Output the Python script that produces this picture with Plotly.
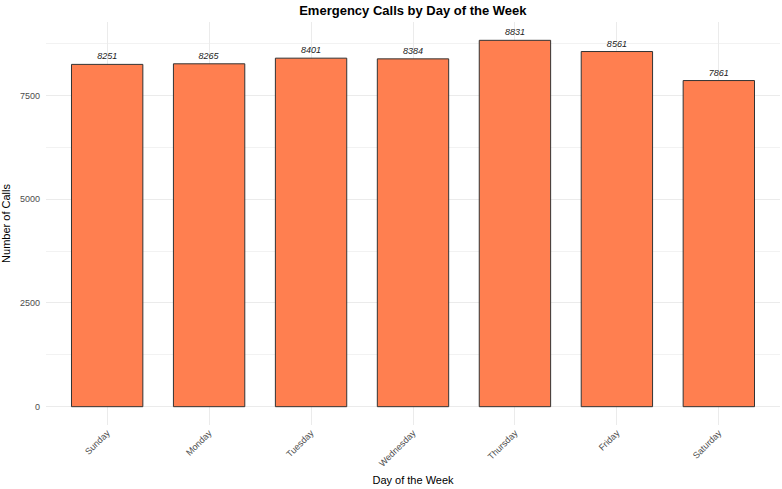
import plotly.graph_objects as go

days = ["Sunday", "Monday", "Tuesday", "Wednesday", "Thursday", "Friday", "Saturday"]
calls = [8251, 8265, 8401, 8384, 8831, 8561, 7861]
y_ticks = [0, 2500, 5000, 7500]
y_minor = [1250, 3750, 6250, 8750]

FONT = "Liberation Sans, Arial, sans-serif"

fig = go.Figure()
fig.add_trace(go.Bar(
    x=list(range(1, len(days) + 1)),
    y=calls,
    width=0.7,
    marker=dict(color="#FF7F50", line=dict(color="#333333", width=1)),
    text=[str(v) for v in calls],
    textposition="outside",
    textfont=dict(family=FONT, size=9, color="#222222", style="italic"),
    cliponaxis=False,
    hoverinfo="x+y",
))

ymax = max(calls)
fig.update_layout(
    width=782, height=489,
    margin=dict(l=46, r=2, t=22, b=64),
    paper_bgcolor="white", plot_bgcolor="white",
    showlegend=False,
    title=dict(text="<b>Emergency Calls by Day of the Week</b>", x=0.528, xanchor="center",
               y=0.979, yanchor="middle",
               font=dict(family=FONT, size=13, color="#000000")),
    xaxis=dict(
        range=[0.4, 7.6],
        tickmode="array", tickvals=list(range(1, len(days) + 1)), ticktext=days,
        tickangle=-45,
        tickfont=dict(family=FONT, size=9, color="#4D4D4D"),
        showgrid=True, gridcolor="#EBEBEB", gridwidth=1,
        zeroline=False, showline=False, ticks="",
        title=dict(text="Day of the Week", font=dict(family=FONT, size=11, color="#000000"), standoff=8),
    ),
    yaxis=dict(
        range=[-0.05 * ymax, 1.05 * ymax],
        tickmode="array", tickvals=y_ticks, ticktext=[str(t) for t in y_ticks],
        tickfont=dict(family=FONT, size=9, color="#4D4D4D"),
        ticklabelstandoff=5,
        showgrid=True, gridcolor="#EBEBEB", gridwidth=1,
        minor=dict(tickmode="array", tickvals=y_minor, showgrid=True, gridcolor="#F2F2F2", gridwidth=0.5),
        zeroline=False, showline=False, ticks="",
        title=dict(text="Number of Calls", font=dict(family=FONT, size=11, color="#000000"), standoff=8),
    ),
)

fig.write_html("out.html")
